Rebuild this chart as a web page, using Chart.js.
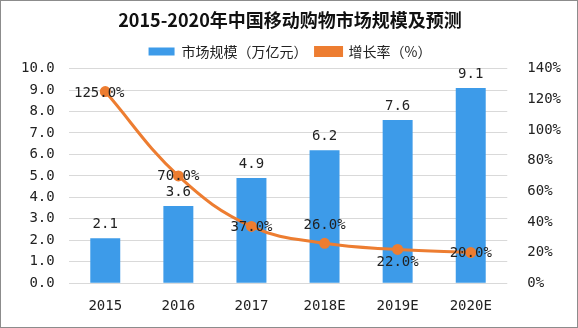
<!DOCTYPE html>
<html>
<head>
<meta charset="utf-8">
<script src="https://cdn.jsdelivr.net/npm/chart.js@4"></script>
<style>
  html, body { margin:0; padding:0; background:#fff; }
  #wrap { position:relative; width:576px; height:326px; border:1px solid #8c8c8c; }
</style>
</head>
<body>
<div id="wrap"><canvas id="c" width="576" height="326"></canvas></div>
<script>
const years = ["2015", "2016", "2017", "2018E", "2019E", "2020E"];
const scale = [2.1, 3.6, 4.9, 6.2, 7.6, 9.1];
const growth = [125.0, 70.0, 37.0, 26.0, 22.0, 20.0];
const leftTicks = ["0.0","1.0","2.0","3.0","4.0","5.0","6.0","7.0","8.0","9.0","10.0"];

const numFont = "'DejaVu Sans Mono', 'Noto Sans CJK SC', monospace";

// value labels on bars and on the line
const labelPlugin = {
  id: "labels",
  afterDatasetsDraw(chart){
    const ctx = chart.ctx;
    ctx.save();
    ctx.fillStyle = "#222";
    ctx.font = "14px " + numFont;
    ctx.textAlign = "center";
    ctx.textBaseline = "middle";
    chart.getDatasetMeta(0).data.forEach((b, i)=>{
      ctx.fillText(scale[i].toFixed(1), b.x, b.y - 14);
    });
    const offs = [[-6,2],[0,0],[0,1],[0,-18],[0,13],[0,1]];
    chart.getDatasetMeta(1).data.forEach((p, i)=>{
      ctx.fillText(growth[i].toFixed(1) + "%", p.x + offs[i][0], p.y + offs[i][1]);
    });
    ctx.restore();
  }
};

new Chart(document.getElementById("c"), {
  data: {
    labels: years,
    datasets: [
      { type:"bar", label:"市场规模（万亿元）", data: scale, yAxisID:"y",
        backgroundColor:"#3d9be9", barPercentage:0.41, categoryPercentage:1, order:2 },
      { type:"line", label:"增长率（%）", data: growth, yAxisID:"y2",
        borderColor:"#ed7d31", backgroundColor:"#ed7d31", borderWidth:3,
        pointRadius:4, pointBackgroundColor:"#ed7d31", tension:0.4, order:1 },
    ]
  },
  options: {
    responsive:false, animation:false,
    layout:{ padding:{ left:6, right:4, top:0, bottom:5 } },
    scales: {
      x: { grid:{ display:false }, border:{ display:false },
        ticks:{ color:"#222", font:{ size:14, family:numFont }, padding:7 } },
      y: { position:"left", min:0, max:10,
        ticks:{ stepSize:1, autoSkip:false, color:"#222", font:{ size:14, family:numFont }, padding:14,
          callback:(v,i)=>leftTicks[i] },
        grid:{ color:"#d9d9d9", drawTicks:false }, border:{ display:false } },
      y2: { position:"right", min:0, max:140,
        ticks:{ stepSize:20, autoSkip:false, color:"#222", font:{ size:14, family:numFont }, padding:12,
          callback:(v)=>v + "%" },
        grid:{ display:false }, border:{ display:false } },
    },
    plugins: {
      title:{ display:true, text:"2015-2020年中国移动购物市场规模及预测", color:"#111",
        font:{ size:18, weight:"bold", family:"'Noto Sans CJK SC', serif" }, padding:{ top:8, bottom:6 } },
      legend:{
        labels:{ color:"#222", font:{ size:14, family:"'Noto Sans CJK SC'" }, boxWidth:26, boxHeight:8, padding:8,
          sort:(a,b)=>a.datasetIndex - b.datasetIndex },
      },
      tooltip:{ enabled:false }
    }
  },
  plugins:[labelPlugin]
});
</script>
</body>
</html>
